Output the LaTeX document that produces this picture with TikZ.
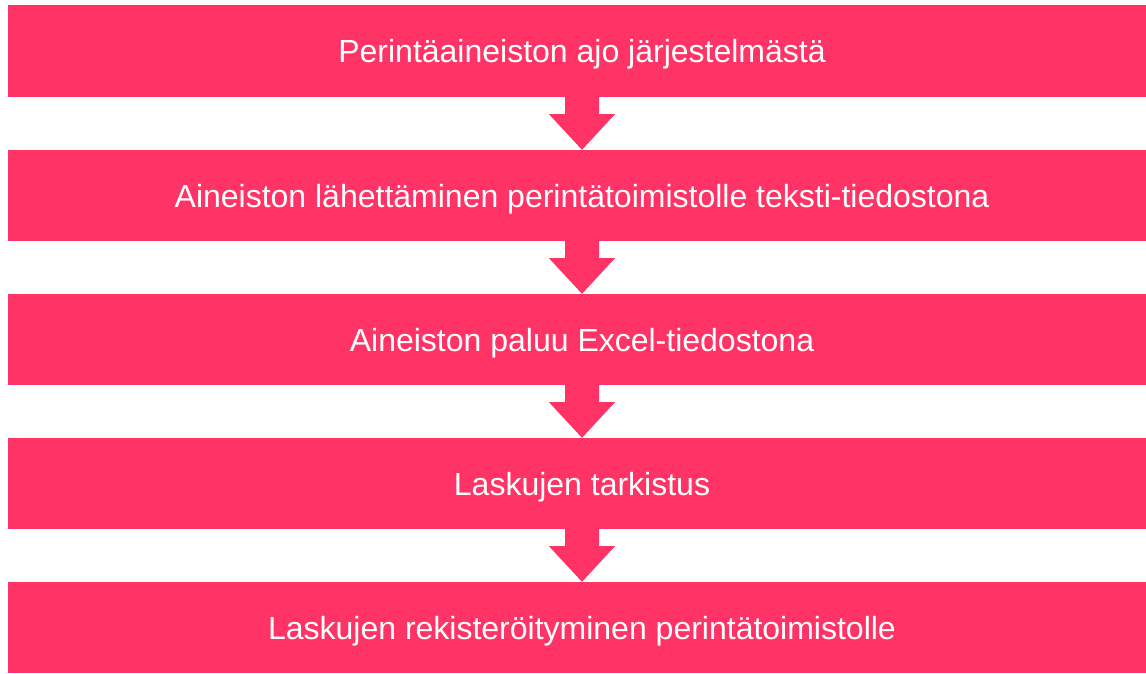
\documentclass[tikz,border=0pt]{standalone}
\usepackage{fontspec}
\setmainfont{Liberation Sans}
\usetikzlibrary{calc}
\definecolor{flowred}{RGB}{255,51,102}
\begin{document}
\begin{tikzpicture}[x=1pt,y=-1pt,
step box/.style={fill=flowred,text=white,minimum width=1148pt,minimum height=91pt,
  inner sep=0pt,text depth=0pt,font=\fontsize{32}{38}\selectfont},
flow/.style={fill=flowred}]
\useasboundingbox (0,0) rectangle (1146,673);
\def\cx{582}
\node[step box,minimum height=92pt] (s1) at (\cx,51) {Perintäaineiston ajo järjestelmästä};
\node[step box] (s2) at (\cx,195.5) {Aineiston lähettäminen perintätoimistolle teksti-tiedostona};
\node[step box] (s3) at (\cx,339.5) {Aineiston paluu Excel-tiedostona};
\node[step box] (s4) at (\cx,483.5) {Laskujen tarkistus};
\node[step box] (s5) at (\cx,627.5) {Laskujen rekisteröityminen perintätoimistolle};

% block arrows between the steps
\foreach \a/\b in {s1/s2,s2/s3,s3/s4,s4/s5}{
\fill[flow] ($(\a.south)+(-17,0)$) -- ++(0,17) -- ++(-16,0) -- (\b.north)
  -- ($(\a.south)+(33,17)$) -- ++(-16,0) -- ++(0,-17) -- cycle;
}
\end{tikzpicture}
\end{document}
